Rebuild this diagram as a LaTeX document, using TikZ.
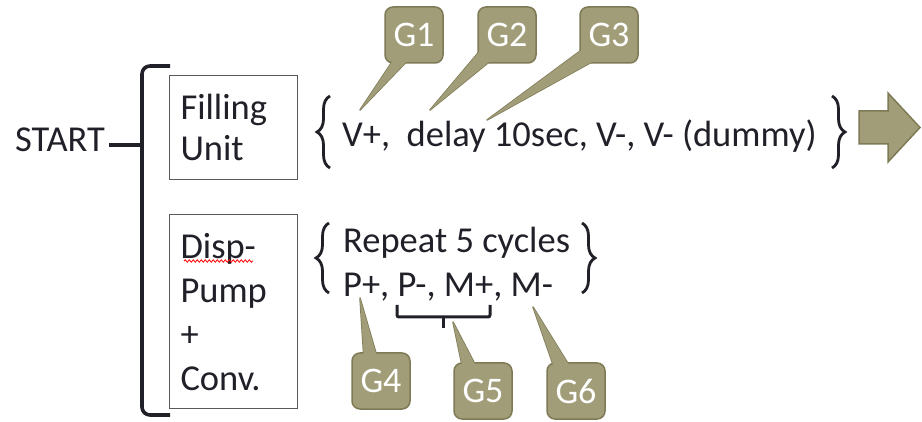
\documentclass[tikz,border=0pt]{standalone}
\usepackage{fontspec}
\setmainfont{Carlito}
\usetikzlibrary{positioning,backgrounds,decorations.pathreplacing,decorations.pathmorphing}

\definecolor{khaki}{RGB}{161,157,120}
\definecolor{khakiline}{RGB}{126,122,86}
\definecolor{ink}{RGB}{32,32,40}

\tikzset{
  txt/.style={inner sep=0pt, text=ink, font=\fontsize{36.5}{41}\selectfont},
  unitbox/.style={txt, draw=black!65, line width=1.3pt, minimum width=127pt,
    text width=106pt, align=left, inner xsep=11pt},
  callout/.style={draw=khakiline, fill=khaki, line width=1.5pt, rounded corners=8pt,
    minimum width=58pt, minimum height=56pt, inner sep=0pt,
    text=white, font=\fontsize{36}{36}\selectfont},
  pointer/.style={draw=khakiline, fill=khaki, line width=1.5pt, line join=round},
  curly/.style={decorate, decoration={brace, amplitude=13pt}, line width=2.8pt, draw=ink},
  bigbrace/.style={line width=3.6pt, draw=ink, rounded corners=8pt},
}

\begin{document}
\begin{tikzpicture}[x=1pt, y=-1pt]
\useasboundingbox (0,0) rectangle (922,422);
% units
\node [txt, anchor=base] (start) at (60,152) {START};
\node [unitbox, minimum height=104pt] (fill) at (233.5,127.5) {Filling\\Unit};
\node [unitbox, minimum height=194pt, font=\fontsize{36.5}{44}\selectfont,
       below=34pt of fill] (disp) {Disp-\\Pump\\+\\Conv.};
\draw [red, line width=0.8pt, decorate,
       decoration={snake, segment length=4pt, amplitude=1.2pt}] (184,261) -- (253,261);

% big brace
\coordinate (tip) at (142,145);
\draw [bigbrace] (170,66) -- (142,66) -- (142,415) -- (170,415);
\draw [line width=3.6pt, draw=ink] ([xshift=4pt]start.east |- tip) -- (tip);

% sequences
\node [txt, anchor=base west] (seq1) at (342,147) {V+,\ \ delay 10sec, V-, V- (dummy)};
\node [txt, anchor=base west] (rep) at (343,253) {Repeat 5 cycles};
\node [txt, anchor=base west] (seq2) at (343,297) {P+, P-, M+, M-};
\draw [curly] (330,168) -- (330,96);
\draw [curly] (832,96) -- (832,168);
\draw [curly] (329,293) -- (329,223);
\draw [curly] (582,223) -- (582,293);

% group bracket under P-, M+
\coordinate (ga) at (397,305);
\coordinate (gb) at (490,305);
\coordinate (gt) at (443,328);
\draw [line width=3pt, draw=ink, rounded corners=2pt]
  (ga) |- (gt |- 0,317) -| (gb);
\draw [line width=3pt, draw=ink] (gt |- 0,317) -- (gt);

% arrow
\filldraw [pointer, line join=miter] (859,111) -- (888,111) -- (888,93) -- (920,127.5)
  -- (888,162) -- (888,144) -- (859,144) -- cycle;

% callouts
\node [callout] (g1) at (414,35) {G1};
\node [callout] (g2) at (507,35) {G2};
\node [callout] (g3) at (609,35) {G3};
\node [callout] (g4) at (381,381) {G4};
\node [callout] (g5) at (483,391) {G5};
\node [callout] (g6) at (576,391) {G6};
\coordinate (t1) at (360,110);
\coordinate (t2) at (430,110);
\coordinate (t3) at (487,120);
\coordinate (t4) at (360,298);
\coordinate (t5) at (453,322);
\coordinate (t6) at (533,307);
\begin{pgfonlayer}{background}
\filldraw [pointer] (396,56) -- (t1) -- (412,56) -- cycle;
\filldraw [pointer] (484,46) -- (t2) -- (494,58) -- cycle;
\filldraw [pointer] (587,46) -- (t3) -- (599,58) -- cycle;
\filldraw [pointer] (364,360) -- (t4) -- (378,360) -- cycle;
\filldraw [pointer] (463,370) -- (t5) -- (478,370) -- cycle;
\filldraw [pointer] (555,370) -- (t6) -- (572,370) -- cycle;
\end{pgfonlayer}
\fill [khaki] (396,56) -- (t1) -- (412,56) -- cycle;
\fill [khaki] (484,46) -- (t2) -- (494,58) -- cycle;
\fill [khaki] (587,46) -- (t3) -- (599,58) -- cycle;
\fill [khaki] (364,360) -- (t4) -- (378,360) -- cycle;
\fill [khaki] (463,370) -- (t5) -- (478,370) -- cycle;
\fill [khaki] (555,370) -- (t6) -- (572,370) -- cycle;
\end{tikzpicture}
\end{document}
